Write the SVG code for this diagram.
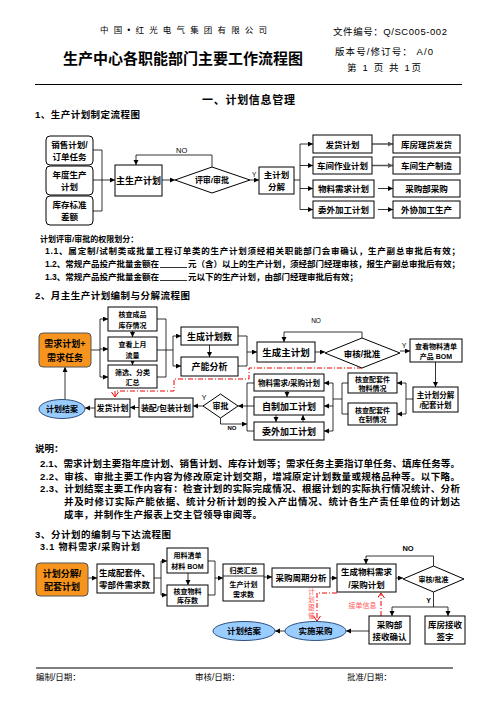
<svg xmlns="http://www.w3.org/2000/svg" width="496" height="702" viewBox="0 0 496 702">
<defs>
<marker id="a" markerUnits="userSpaceOnUse" markerWidth="6" markerHeight="6" refX="5" refY="2.5" orient="auto"><path d="M0,0 L5,2.5 L0,5 z" fill="#000"/></marker>
<marker id="g" markerUnits="userSpaceOnUse" markerWidth="6" markerHeight="6" refX="5" refY="2.5" orient="auto"><path d="M0,0 L5,2.5 L0,5 z" fill="#555"/></marker>
<marker id="r" markerUnits="userSpaceOnUse" markerWidth="8" markerHeight="8" refX="5" refY="3.5" orient="auto"><path d="M0,0 L5,3.5 L0,7" fill="none" stroke="#e00" stroke-width="1"/></marker>
<style>
text{font-family:"Liberation Sans","Noto Sans CJK SC",sans-serif;fill:#000}
.t{font-weight:bold;text-anchor:middle}
.n{font-weight:bold}
.b{fill:#fff;stroke:#000;stroke-width:1}
.o{fill:#F7941D;stroke:#555;stroke-width:1}
.e{fill:#99CCFF;stroke:#2F4F7F;stroke-width:1}
.l{fill:none;stroke:#000;stroke-width:0.8}
.ar{fill:none;stroke:#000;stroke-width:0.8;marker-end:url(#a)}
.gr{fill:none;stroke:#555;stroke-width:1.5;marker-end:url(#g)}
.rd{fill:none;stroke:#e00;stroke-width:1;stroke-dasharray:5,2,1,2}
.pk{fill:#FF5A5A;text-anchor:middle}
</style>
</defs>

<!-- header -->
<g id="header">
<text x="100" y="33" font-size="8.5" textLength="167">中 国 • 红 光 电 气 集 团 有 限 公 司</text>
<text x="63" y="64" font-size="15" font-weight="bold" textLength="240">生产中心各职能部门主要工作流程图</text>
<text x="333" y="35" font-size="9.5" textLength="114">文件编号：Q/SC005-002</text>
<text x="335" y="55" font-size="9.5" textLength="98">版本号/修订号： A/0</text>
<text x="347" y="70.5" font-size="9.5" textLength="74">第 1 页 共 1页</text>
<line x1="35" y1="84.5" x2="462" y2="84.5" stroke="#000" stroke-width="1"/>
<text x="202" y="104" font-size="11" font-weight="bold" textLength="93">一、计划信息管理</text>
</g>

<!-- ===== Section 1 ===== -->
<text x="35" y="118" class="n" font-size="9.5" textLength="105">1、生产计划制定流程图</text>

<g id="connectors1">
<path class="l" d="M93,150 H102 V211 H93"/>
<path class="ar" d="M93,180 H115"/>
<path class="ar" d="M162,180 H175"/>
<path class="ar" d="M212,167 V155 H136 V165"/>
<path class="ar" d="M250,180 H259"/>
<path class="l" d="M294,180 H300"/>
<path class="l" d="M300,144 V209.5"/>
<path class="ar" d="M300,144 H313"/>
<path class="ar" d="M300,165.5 H313"/>
<path class="ar" d="M300,188.5 H313"/>
<path class="ar" d="M300,209.5 H313"/>
<path class="gr" d="M372,144 H393"/>
<path class="gr" d="M372,165.5 H393"/>
<path class="ar" d="M378,188.5 H393"/>
<path class="ar" d="M378,209.5 H393"/>
<text x="176" y="153" font-size="7.5">NO</text>
<text x="252" y="177" font-size="6.5">Y</text>
</g>

<g id="s1_sales"><rect class="b" x="46" y="136" width="47" height="29" rx="4"/><text class="t" x="69.5" y="148" font-size="8.5">销售计划/</text><text class="t" x="69.5" y="160" font-size="8.5">订单任务</text></g>
<g id="s1_annual"><rect class="b" x="46" y="166" width="47" height="29" rx="4"/><text class="t" x="69.5" y="178" font-size="8.5">年度生产</text><text class="t" x="69.5" y="190" font-size="8.5">计划</text></g>
<g id="s1_stock"><rect class="b" x="46" y="196" width="47" height="29" rx="4"/><text class="t" x="69.5" y="208" font-size="8.5">库存标准</text><text class="t" x="69.5" y="220" font-size="8.5">差额</text></g>
<g id="s1_mps"><rect class="b" x="115" y="165" width="47" height="31"/><text class="t" x="138.5" y="183.5" font-size="9">主生产计划</text></g>
<g id="s1_review"><polygon class="b" points="175,180 212,167 250,180 212,193"/><text class="t" x="212" y="183" font-size="8">评审/审批</text></g>
<g id="s1_decomp"><rect class="b" x="259" y="167" width="35" height="27"/><text class="t" x="276.5" y="178" font-size="8.5">主计划</text><text class="t" x="276.5" y="190" font-size="8.5">分解</text></g>
<g id="s1_ship"><rect class="b" x="313" y="135" width="59" height="18"/><text class="t" x="342.5" y="147.5" font-size="8.5">发货计划</text></g>
<g id="s1_shop"><rect class="b" x="313" y="157" width="59" height="17"/><text class="t" x="342.5" y="168.5" font-size="8.5">车间作业计划</text></g>
<g id="s1_mrp"><rect class="b" x="313" y="180" width="61" height="17"/><text class="t" x="343.5" y="191.5" font-size="8.5">物料需求计划</text></g>
<g id="s1_out"><rect class="b" x="313" y="201" width="61" height="17"/><text class="t" x="343.5" y="212.5" font-size="8.5">委外加工计划</text></g>
<g id="s1_wh"><rect class="b" x="393" y="135" width="67" height="18"/><text class="t" x="426.5" y="147.5" font-size="8.5">库房理货发货</text></g>
<g id="s1_mfg"><rect class="b" x="393" y="157" width="67" height="17"/><text class="t" x="426.5" y="168.5" font-size="8.5">车间生产制造</text></g>
<g id="s1_pur"><rect class="b" x="393" y="180" width="67" height="17"/><text class="t" x="426.5" y="191.5" font-size="8.5">采购部采购</text></g>
<g id="s1_ext"><rect class="b" x="393" y="201" width="67" height="17"/><text class="t" x="426.5" y="212.5" font-size="8.5">外协加工生产</text></g>

<g id="s1_notes">
<text x="40" y="242" class="n" font-size="8">计划评审/审批的权限划分：</text>
<text x="45" y="254" class="n" font-size="8.5" textLength="415">1.1、属定制/试制类或批量工程订单类的生产计划须经相关职能部门会审确认，生产副总审批后有效；</text>
<text x="45" y="266.5" class="n" font-size="8.5" textLength="114">1.2、常规产品投产批量金额在</text>
<line x1="160" y1="267.5" x2="187" y2="267.5" stroke="#000" stroke-width="0.8"/>
<text x="188" y="266.5" class="n" font-size="8.5" textLength="272">元（含）以上的生产计划，须经部门经理审核，报生产副总审批后有效；</text>
<text x="45" y="279.5" class="n" font-size="8.5" textLength="114">1.3、常规产品投产批量金额在</text>
<line x1="160" y1="280.5" x2="187" y2="280.5" stroke="#000" stroke-width="0.8"/>
<text x="188" y="279.5" class="n" font-size="8.5" textLength="170">元以下的生产计划，由部门经理审批后有效；</text>
</g>

<!-- ===== Section 2 ===== -->
<text x="35" y="299" class="n" font-size="9.5" textLength="155">2、月主生产计划编制与分解流程图</text>

<g id="connectors2">
<path class="l" d="M91,350 H100"/>
<path class="l" d="M100,319 V377"/>
<path class="ar" d="M100,319 H108"/>
<path class="ar" d="M100,349 H108"/>
<path class="ar" d="M100,377 H108"/>
<path class="ar" d="M132.5,331 V337"/>
<path class="ar" d="M132.5,361 V365"/>
<path class="l" d="M157,319 H166 V377 H157"/>
<path class="l" d="M157,350 H173"/>
<path class="l" d="M173,336 V366"/>
<path class="ar" d="M173,336 H181"/>
<path class="ar" d="M173,366 H181"/>
<path class="ar" d="M209.5,345 V357"/>
<path class="l" d="M238,336 H247 V366 H238"/>
<path class="ar" d="M247,352 H257"/>
<path class="ar" d="M315,352 H325"/>
<path class="ar" d="M362,338 V332 H284 V342"/>
<path class="ar" d="M400,351 H410"/>
<path class="ar" d="M435.5,362 V387"/>
<path class="l" d="M413,399 H406"/>
<path class="l" d="M406,383 V414"/>
<path class="ar" d="M406,383 H397"/>
<path class="ar" d="M406,414 H397"/>
<path class="l" d="M348,383 H342 V414 H348"/>
<path class="l" d="M342,399 H333"/>
<path class="l" d="M333,383 V431"/>
<path class="ar" d="M333,383 H324"/>
<path class="ar" d="M333,406 H324"/>
<path class="ar" d="M333,431 H324"/>
<path class="ar" d="M287,391 V397"/>
<path class="ar" d="M276,415 V422"/>
<path class="ar" d="M303,422 V415"/>
<path class="l" d="M254,383 H247 V431 H254"/>
<path class="ar" d="M254,406 H238"/>
<path class="ar" d="M220.5,418 V424 H247"/>
<path class="ar" d="M203,406 H193"/>
<path class="ar" d="M139,407.5 H130"/>
<path class="ar" d="M95,408 H85"/>
<path class="ar" d="M65,399.5 V367"/>
<path class="rd" d="M362,368 H249 V379 H174 V391 H115 V397" marker-end="url(#r)"/>
<text x="316" y="323" font-size="6.5" text-anchor="middle">NO</text>
<text x="404" y="348" font-size="7" text-anchor="middle">Y</text>
<text x="232" y="429.5" font-size="6" text-anchor="middle" font-weight="bold">NO</text>
<text x="204" y="400" font-size="7" text-anchor="middle">Y</text>
</g>

<g id="s2_demand"><rect class="o" x="39" y="333" width="52" height="34" rx="4"/><text class="t" x="65" y="347" font-size="9">需求计划+</text><text class="t" x="65" y="361" font-size="9">需求任务</text></g>
<g id="s2_check"><rect class="b" x="108" y="307" width="49" height="24"/><text class="t" x="132.5" y="317" font-size="7">核查成品</text><text class="t" x="132.5" y="327.5" font-size="7">库存情况</text></g>
<g id="s2_flow"><rect class="b" x="108" y="337" width="49" height="24"/><text class="t" x="132.5" y="347" font-size="7">查看上月</text><text class="t" x="132.5" y="357.5" font-size="7">流量</text></g>
<g id="s2_filter"><rect class="b" x="108" y="365" width="49" height="23"/><text class="t" x="132.5" y="374.5" font-size="7">筛选、分类</text><text class="t" x="132.5" y="385" font-size="7">汇总</text></g>
<g id="s2_gen"><rect class="b" x="181" y="327" width="57" height="18"/><text class="t" x="209.5" y="339.5" font-size="9">生成计划数</text></g>
<g id="s2_cap"><rect class="b" x="181" y="357" width="57" height="19"/><text class="t" x="209.5" y="370" font-size="9">产能分析</text></g>
<g id="s2_mps"><rect class="b" x="257" y="342" width="58" height="20"/><text class="t" x="286" y="355.5" font-size="9.5">生成主计划</text></g>
<g id="s2_approve"><polygon class="b" points="325,353 362,338 400,353 362,368"/><text class="t" x="362" y="356.5" font-size="8.5">审核/批准</text></g>
<g id="s2_bom"><rect class="b" x="410" y="339" width="52" height="23"/><text class="t" x="436" y="348.5" font-size="7">查看物料清单</text><text class="t" x="436" y="358.5" font-size="7">产品 BOM</text></g>
<g id="s2_decomp"><rect class="b" x="413" y="387" width="45" height="25"/><text class="t" x="435.5" y="397.5" font-size="7.5">主计划分解</text><text class="t" x="435.5" y="408" font-size="7.5">/配套计划</text></g>
<g id="s2_chkmat"><rect class="b" x="348" y="373" width="49" height="20"/><text class="t" x="372.5" y="381.5" font-size="7">核查配套件</text><text class="t" x="372.5" y="390.5" font-size="7">物料情况</text></g>
<g id="s2_chkwip"><rect class="b" x="348" y="403" width="49" height="22"/><text class="t" x="372.5" y="412.5" font-size="7">核查配套件</text><text class="t" x="372.5" y="422" font-size="7">在制情况</text></g>
<g id="s2_mrp"><rect class="b" x="254" y="374" width="70" height="17"/><text class="t" x="289" y="385.5" font-size="7.5">物料需求/采购计划</text></g>
<g id="s2_self"><rect class="b" x="254" y="397" width="70" height="18"/><text class="t" x="289" y="409.5" font-size="9">自制加工计划</text></g>
<g id="s2_out"><rect class="b" x="254" y="422" width="70" height="18"/><text class="t" x="289" y="434.5" font-size="9">委外加工计划</text></g>
<g id="s2_appr2"><polygon class="b" points="203,406 220.5,394 238,406 220.5,418"/><text class="t" x="220.5" y="409" font-size="8">审批</text></g>
<g id="s2_pack"><rect class="b" x="139" y="398" width="54" height="19"/><text class="t" x="166" y="410.5" font-size="8">装配/包装计划</text></g>
<g id="s2_ship"><rect class="b" x="95" y="399" width="35" height="18"/><text class="t" x="112.5" y="411" font-size="8">发货计划</text></g>
<g id="s2_close"><ellipse class="e" cx="62" cy="409" rx="23" ry="9.5"/><text class="t" x="62" y="412" font-size="8">计划结案</text></g>

<g id="s2_notes">
<text x="35" y="452" class="n" font-size="9.5">说明：</text>
<text x="40" y="467" class="n" font-size="9.5" textLength="420">2.1、需求计划主要指年度计划、销售计划、库存计划等；需求任务主要指订单任务、填库任务等。</text>
<text x="40" y="479.5" class="n" font-size="9.5" textLength="420">2.2、审核、审批主要工作内容为修改原定计划交期，增减原定计划数量或规格品种等。以下略。</text>
<text x="40" y="492" class="n" font-size="9.5" textLength="420">2.3、计划结案主要工作内容有：检查计划的实际完成情况、根据计划的实际执行情况统计、分析</text>
<text x="64" y="505" class="n" font-size="9.5" textLength="396">并及时修订实际产能依据、统计分析计划的投入产出情况、统计各生产责任单位的计划达</text>
<text x="64" y="518" class="n" font-size="9.5" textLength="198">成率，并制作生产报表上交主管领导审阅等。</text>
</g>

<!-- ===== Section 3 ===== -->
<text x="35" y="538" class="n" font-size="9.5" textLength="136">3、分计划的编制与下达流程图</text>
<text x="40" y="550" class="n" font-size="9" textLength="100">3.1 物料需求/采购计划</text>

<g id="connectors3">
<path class="ar" d="M88,578 H97"/>
<path class="l" d="M154,578 H161"/>
<path class="l" d="M161,561 V595"/>
<path class="ar" d="M161,561 H167"/>
<path class="ar" d="M161,595 H167"/>
<path class="ar" d="M188,573 V585"/>
<path class="l" d="M208,561 H215 V595 H208"/>
<path class="ar" d="M215,578 H223"/>
<path class="ar" d="M264,577 H272"/>
<path class="ar" d="M330,578 H337"/>
<path class="ar" d="M396,578 H403"/>
<path class="ar" d="M433.5,566 V556 H366 V564"/>
<path class="l" d="M433.5,592 V607"/>
<path class="l" d="M392,607 H448"/>
<path class="ar" d="M392,607 V616"/>
<path class="ar" d="M448,607 V616"/>
<path class="rd" d="M381,616 V593" marker-end="url(#r)"/>
<path class="ar" d="M369,631 H346"/>
<path class="rd" d="M337,593 H317 V621" marker-end="url(#r)"/>
<path class="ar" d="M285,631 H275"/>
<text x="408" y="551" class="t" font-size="7.5">NO</text>
<text x="431" y="603" class="n" font-size="7" text-anchor="end">Y</text>
<text class="pk" x="362.5" y="607.5" font-size="7">接单信息</text>
<text class="pk" x="311.5" y="594" font-size="6.5">计</text>
<text class="pk" x="311.5" y="602" font-size="6.5">划</text>
<text class="pk" x="311.5" y="610" font-size="6.5">跟</text>
<text class="pk" x="311.5" y="618" font-size="6.5">催</text>
</g>

<g id="s3_decomp"><rect class="o" x="36" y="563" width="52" height="33" rx="4"/><text class="t" x="62" y="576.5" font-size="9">计划分解/</text><text class="t" x="62" y="590" font-size="9">配套计划</text></g>
<g id="s3_gen"><rect class="b" x="97" y="564" width="57" height="29"/><text class="n" x="99" y="575.5" font-size="8.5">生成配套件、</text><text class="n" x="99" y="588" font-size="8.5">零部件需求数</text></g>
<g id="s3_bom"><rect class="b" x="167" y="548" width="41" height="25"/><text class="t" x="187.5" y="558" font-size="7">用料清单</text><text class="t" x="187.5" y="569" font-size="7">材料 BOM</text></g>
<g id="s3_stock"><rect class="b" x="167" y="585" width="41" height="21"/><text class="t" x="187.5" y="593.5" font-size="7">核查物料</text><text class="t" x="187.5" y="603" font-size="7">库存数</text></g>
<g id="s3_sum"><rect class="b" x="223" y="564" width="41" height="37"/><line x1="223" y1="576" x2="264" y2="576" stroke="#000" stroke-width="0.8"/><text class="t" x="243.5" y="573" font-size="7">归类汇总</text><text class="t" x="243.5" y="587" font-size="7">生产计划</text><text class="t" x="243.5" y="597" font-size="7">需求数</text></g>
<g id="s3_cycle"><rect class="b" x="272" y="568" width="58" height="19"/><text class="t" x="301" y="580.5" font-size="8.5">采购周期分析</text></g>
<g id="s3_mrp"><rect class="b" x="337" y="564" width="59" height="28"/><text class="t" x="366.5" y="575" font-size="8.5">生成物料需求</text><text class="t" x="366.5" y="587.5" font-size="8.5">/采购计划</text></g>
<g id="s3_approve"><polygon class="b" points="403,579 433.5,566 464,579 433.5,592"/><text class="t" x="433.5" y="582" font-size="7">审核/批准</text></g>
<g id="s3_confirm"><rect class="b" x="369" y="616" width="41" height="28"/><text class="t" x="389.5" y="627.5" font-size="8.5">采购部</text><text class="t" x="389.5" y="640" font-size="8.5">接收确认</text></g>
<g id="s3_sign"><rect class="b" x="425" y="616" width="40" height="28"/><text class="t" x="445" y="627.5" font-size="8.5">库房接收</text><text class="t" x="445" y="640" font-size="8.5">签字</text></g>
<g id="s3_buy"><ellipse class="e" cx="315.5" cy="631" rx="30.5" ry="9.5"/><text class="t" x="315.5" y="634" font-size="8.5">实施采购</text></g>
<g id="s3_close"><ellipse class="e" cx="244" cy="631" rx="31" ry="9.5"/><text class="t" x="244" y="634" font-size="8.5">计划结案</text></g>

<!-- footer -->
<g id="footer">
<line x1="36" y1="668" x2="453" y2="668" stroke="#000" stroke-width="1"/>
<text x="36" y="680" font-size="8.5" fill="#333">编制/日期：</text>
<text x="195" y="680" font-size="8.5" fill="#333">审核/日期：</text>
<text x="347" y="680" font-size="8.5" fill="#333">批准/日期：</text>
</g>
</svg>
